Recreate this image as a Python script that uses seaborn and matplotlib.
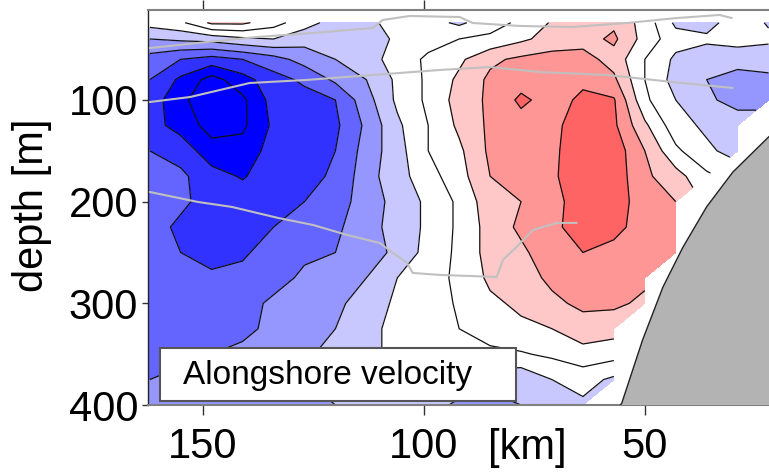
import numpy as np
import pandas as pd
import matplotlib
matplotlib.use("Agg")
import matplotlib.pyplot as plt
from matplotlib.patches import Rectangle
import seaborn as sns

nan = np.nan

# Section grid: offshore distance (km) and depth (m)
distance_km = np.array([162, 155, 148, 141, 134, 127, 120, 113, 106, 99, 92,
                        85, 78, 71, 64, 57, 50, 43, 36, 29, 22])
depth_m = np.array([24, 40, 60, 80, 100, 125, 150, 175, 200, 225, 250,
                    275, 300, 325, 350, 375, 400])

# Alongshore velocity (cm/s), rows = depth, columns = distance; NaN below/near the slope
velocity = np.array([
    [-3, -1, 6, 6, 2, -3, -7, -7, -2, -3, -6, -2, 1, 5.5, 8, 9, 3, -6, -7, -2, -5.5],
    [-10, -9, -8, -6, -5, -8, -9, -8, -4, -2, 0, 1, 4, 7, 8, 11, 3, -3, -4, -3, -4],
    [-17, -20, -22, -20, -17, -13, -10, -7, -3, 1, 4, 9, 11, 12, 12, 8, 0, -6, -8, -8, -8],
    [-20, -26, -32, -27, -22, -19, -14, -10, -4, 1, 6, 11, 13, 13, 14, 11, 0, -7, -10, -12, -11],
    [-22, -29, -33, -31, -23, -22, -20, -12, -4, 1, 7, 11, 16, 13, 16, 15.5, 1, -5, -9, -12, -12],
    [-23, -27, -32, -31, -24, -22, -21, -14, -6, 0, 6, 11, 13, 14, 17, 16, 6, -3, -6, -7, nan],
    [-20, -22, -28, -28, -23, -22, -20, -13, -7, 0, 4, 11, 13, 14, 18, 18, 10, 1, -4, -7, nan],
    [-18, -19, -23, -25.5, -22, -21, -19.5, -12, -7, -2, 3, 10, 12, 14, 19, 18, 11, 7, 1, nan, nan],
    [-18, -19, -22, -22, -21, -20, -17, -13, -8, -4, 1, 8, 10, 13, 18, 18, 12, 10, nan, nan, nan],
    [-18, -21, -22, -21, -20, -17, -16, -12, -8, -4, 1, 7, 11, 14, 17, 17, 12, 11, nan, nan, nan],
    [-17, -20, -22, -21, -17, -16, -15, -12, -9, -3, 1, 7, 9, 13, 15, 13, 12, 10, nan, nan, nan],
    [-17, -18, -19, -18, -17, -14, -12, -10, -5, -2, 1, 6, 8, 11, 13, 13, 11, nan, nan, nan, nan],
    [-17, -17, -17, -17, -14, -13, -11, -8, -4, -2, 0.5, 4, 6, 9, 11, 11, 9, nan, nan, nan, nan],
    [-17, -17, -16, -16, -14, -12, -10, -7, -3, -2, 0, 2, 4, 5, 8, 7, nan, nan, nan, nan, nan],
    [-16, -16, -15, -14, -12, -11, -8, -6, -4, -3, -2, -1, -0.5, 1, 3, 2, nan, nan, nan, nan, nan],
    [-15, -14, -13, -12, -11, -10, -9, -8, -7, -7, -7, -8, -9, -5, -3, -6, nan, nan, nan, nan, nan],
    [-12, -13, -15, -14, -12, -11, -10, -8, -6, -8, -11, -12, -10, -7, -6, nan, nan, nan, nan, nan, nan],
])

fill_levels = [-40, -30, -25, -20, -15, -10, -5, 0, 5, 10, 15, 20, 30]
fill_colors = ["#0000ff", "#0000ff", "#3232ff", "#6464ff", "#9696ff", "#c8c8ff",
               "#ffffff", "#ffffff", "#ffc8c8", "#ff9696", "#ff6464", "#ff6464"]
line_levels = [-30, -25, -20, -15, -10, -5, 0, 5, 10, 15]

# Isopycnal traces (km, m)
iso_top_km = [162.0, 149.1, 137.8, 125.1, 111.5, 109.3, 103.2, 91.9, 88.9,
              78.3, 66.3, 54.1, 42.8, 33.1, 30.3]
iso_top_depth = [48.9, 43.0, 38.1, 34.1, 29.2, 21.3, 17.4, 18.4, 24.3,
                 27.2, 28.2, 24.3, 19.4, 16.4, 19.4]
iso_mid_km = [162.0, 152.9, 139.4, 126.5, 111.5, 96.4, 85.1, 73.8, 58.6, 43.7, 30.1]
iso_mid_depth = [102.0, 97.1, 83.3, 80.3, 75.4, 70.5, 67.6, 72.5, 75.4, 82.3, 88.2]
iso_deep_km = [162.0, 151.1, 143.4, 133.0, 125.1, 117.4, 110.0, 107.0, 103.8,
               102.5, 96.4, 83.5, 82.1, 79.0, 75.3, 69.9, 65.4]
iso_deep_depth = [190.5, 200.3, 205.2, 216.0, 222.9, 232.7, 240.6, 250.4, 260.3,
                  270.1, 272.1, 274.0, 257.3, 244.5, 227.8, 220.9, 220.9]

# Continental slope outline (km, m)
slope_km = [57.0, 55.2, 50.5, 45.9, 41.4, 36.0, 30.1, 21.9, 10.0, 10.0]
slope_depth = [410.0, 398.0, 336.0, 284.0, 245.0, 205.0, 171.0, 136.0, 125.0, 410.0]

sns.set_theme(style="ticks")
plt.rcParams["font.family"] = ["Liberation Sans", "DejaVu Sans"]
plt.rcParams["text.color"] = "black"
plt.rcParams["axes.labelcolor"] = "black"
plt.rcParams["xtick.color"] = "black"
plt.rcParams["ytick.color"] = "black"
plt.rcParams["contour.negative_linestyle"] = "solid"

fig = plt.figure(figsize=(7.69, 4.73), dpi=100)
ax = fig.add_axes([148 / 769, 1 - 405 / 473, 621 / 769, 395 / 473])
ax.set_facecolor("white")

X, Y = np.meshgrid(distance_km, depth_m)
Z = np.ma.masked_invalid(velocity)
ax.contourf(X, Y, Z, levels=fill_levels, colors=fill_colors, zorder=1)
ax.contour(X, Y, Z, levels=line_levels, colors="#111111", linewidths=0.9,
           linestyles="solid", zorder=2)

for km, dep in [(iso_top_km, iso_top_depth), (iso_mid_km, iso_mid_depth),
                (iso_deep_km, iso_deep_depth)]:
    df = pd.DataFrame({"km": km, "depth": dep})
    sns.lineplot(data=df, x="km", y="depth", sort=False, estimator=None,
                 color="#c0c0c0", linewidth=1.5, ax=ax, zorder=3)

ax.fill(slope_km, slope_depth, facecolor="#b3b3b3", edgecolor="#222222",
        linewidth=1.0, zorder=4)

ax.set_xlim(162.4, 21.9)
ax.set_ylim(400, 11.5)

ax.set_xticks([150, 100, 50])
ax.set_yticks([100, 200, 300, 400])
ax.tick_params(axis="x", direction="out", length=7, width=1, color="#333333",
               labelcolor="black", labelsize=30, pad=9)
ax.tick_params(axis="y", direction="out", length=4, width=1, color="#333333",
               labelcolor="black", labelsize=30, pad=3)

top = ax.secondary_xaxis("top")
top.set_xticks([150, 100])
top.tick_params(direction="out", length=7, width=1, color="#333333", labeltop=False)
top.spines["top"].set_visible(False)

ax.spines["right"].set_visible(False)
ax.spines["left"].set_color("#222222")
ax.spines["left"].set_linewidth(1.0)
ax.spines["top"].set_color("#808080")
ax.spines["top"].set_linewidth(1.5)
ax.spines["bottom"].set_color("#808080")
ax.spines["bottom"].set_linewidth(1.5)

ax.set_xlabel("[km]", fontsize=30, color="black")
ax.xaxis.label.set_va("center")
ax.xaxis.set_label_coords((527 - 148) / 621, (405 - 448) / 395)
ax.set_ylabel("")
fig.text(32 / 769, 1 - 205 / 473, "depth [m]", rotation=90, fontsize=30,
         ha="center", va="center", color="black")

ax.add_patch(Rectangle((12 / 621, 4 / 395), 356 / 621, 53 / 395,
                       transform=ax.transAxes, facecolor="white",
                       edgecolor="#555555", linewidth=1.5, zorder=6))
ax.text(35 / 621, (405 - 375) / 395, "Alongshore velocity", transform=ax.transAxes,
        fontsize=24, ha="left", va="center", color="black", zorder=7)

fig.savefig("out.png", dpi=100)
